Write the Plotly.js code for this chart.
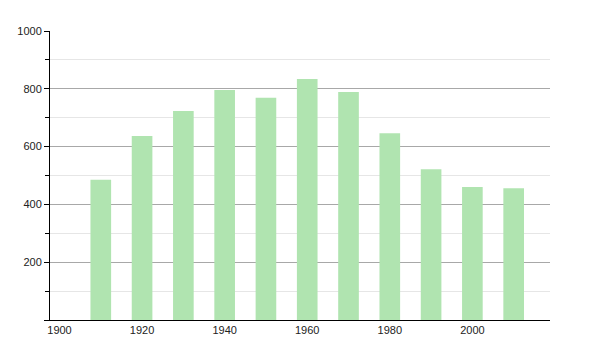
<!DOCTYPE html>
<html>
<head>
<meta charset="utf-8">
<script src="https://cdn.plot.ly/plotly-3.0.1.min.js"></script>
<style>html,body{margin:0;padding:0;background:#fff;}#chart{width:600px;height:350px;}</style>
</head>
<body>
<div id="chart"></div>
<script>
const years = [1910, 1920, 1930, 1940, 1950, 1960, 1970, 1980, 1990, 2000, 2010];
const population = [485, 637, 723, 796, 769, 834, 789, 646, 522, 460, 456];
const xTickVals = [1900, 1920, 1940, 1960, 1980, 2000];
const xTickText = ['1900', '1920', '1940', '1960', '1980', '2000'];
const yTickVals = [0, 200, 400, 600, 800, 1000];
const yTickText = ['', '200', '400', '600', '800', '1000'];
const yMinorVals = [100, 300, 500, 700, 900];

Plotly.newPlot('chart', [{
  type: 'bar',
  x: years,
  y: population,
  width: 5,
  marker: {color: 'rgb(176,228,176)', line: {width: 0}},
  hoverinfo: 'none'
}], {
  width: 600, height: 350,
  margin: {l: 50, r: 50, t: 31, b: 30, pad: 0},
  paper_bgcolor: '#fff', plot_bgcolor: '#fff',
  showlegend: false,
  font: {family: 'Liberation Sans, Arial, sans-serif', size: 11, color: '#222'},
  xaxis: {
    range: [1897.7, 2018.8],
    tickmode: 'array', tickvals: xTickVals, ticktext: xTickText,
    ticks: '', showgrid: false, zeroline: false,
    showline: true, linecolor: '#000', linewidth: 1,
    fixedrange: true
  },
  yaxis: {
    range: [0, 1000],
    tickmode: 'array', tickvals: yTickVals, ticktext: yTickText,
    ticks: 'outside', ticklen: 5, tickcolor: '#000', tickwidth: 1,
    showgrid: true, gridcolor: '#a8a8a8', gridwidth: 1,
    zeroline: false, showline: true, linecolor: '#000', linewidth: 1,
    minor: {tickmode: 'array', tickvals: yMinorVals, ticks: 'outside', ticklen: 4, tickcolor: '#000', showgrid: true, gridcolor: '#e6e6e6', gridwidth: 1},
    fixedrange: true
  }
}, {staticPlot: true});
</script>
</body>
</html>
